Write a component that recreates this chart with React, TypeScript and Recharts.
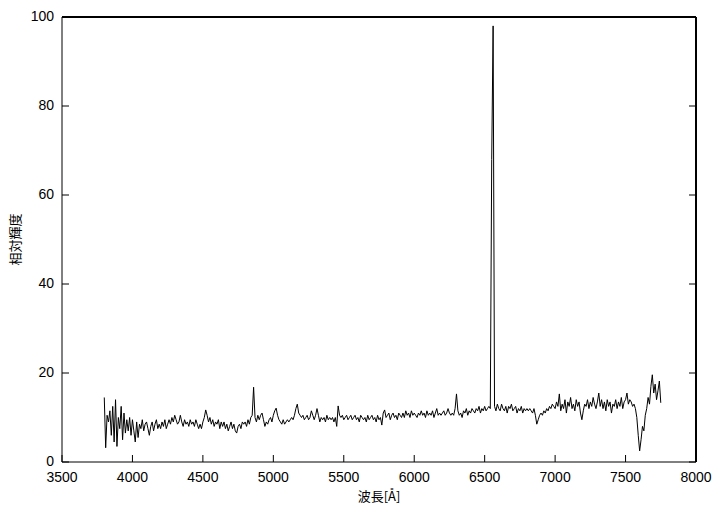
import React from 'react';
import { LineChart, Line, XAxis, YAxis, Label } from 'recharts';

const X_TICKS = [3500, 4000, 4500, 5000, 5500, 6000, 6500, 7000, 7500, 8000];
const Y_TICKS = [0, 20, 40, 60, 80, 100];
const X_TITLE = '波長[Å]';
const Y_TITLE = '相対輝度';

const WL_START = 3800;
const WL_STEP = 10;

const FLUX_3800 = [14.5, 3.2, 10.5, 9.0, 11.5, 6.0, 12.5, 4.5, 14.0, 3.5, 10.0, 7.5, 12.5, 5.0, 11.0, 6.5, 9.5, 7.0, 10.0, 6.0];
const FLUX_4000 = [9.5, 7.0, 4.5, 9.0, 5.5, 8.5, 7.5, 9.5, 7.0, 8.5, 9.0, 7.5, 6.0, 8.0, 9.0, 7.0, 8.5, 9.5, 7.5, 8.5];
const FLUX_4200 = [7.5, 9.0, 8.0, 9.5, 7.5, 8.5, 9.5, 8.5, 10.0, 9.0, 10.5, 9.5, 8.5, 9.0, 10.5, 9.0, 8.0, 9.5, 8.5, 9.0];
const FLUX_4400 = [8.0, 9.5, 8.5, 9.0, 8.0, 9.5, 8.5, 7.5, 8.5, 7.5, 9.0, 10.0, 11.7, 10.5, 9.0, 10.0, 8.5, 9.5, 8.0, 9.0];
const FLUX_4600 = [8.5, 9.5, 7.5, 9.0, 8.0, 9.0, 7.5, 8.5, 7.0, 8.0, 9.0, 7.5, 8.5, 7.0, 6.5, 8.0, 8.5, 7.5, 9.0, 8.5];
const FLUX_4800 = [9.0, 8.0, 9.5, 8.5, 10.0, 10.5, 16.8, 10.0, 9.0, 10.5, 9.5, 10.5, 11.0, 9.5, 8.0, 9.0, 8.5, 9.5, 10.0, 9.0];
const FLUX_5000 = [10.5, 11.5, 12.1, 10.5, 9.5, 9.0, 8.5, 9.5, 8.5, 9.0, 9.5, 9.0, 9.5, 10.0, 9.5, 10.5, 12.0, 13.0, 11.0, 10.5];
const FLUX_5200 = [10.0, 10.5, 9.5, 10.0, 10.5, 9.5, 10.0, 11.5, 10.5, 9.5, 10.5, 12.0, 10.5, 9.0, 10.0, 9.5, 10.0, 9.0, 10.5, 9.5];
const FLUX_5400 = [10.0, 9.5, 10.0, 9.0, 10.0, 8.0, 12.6, 10.5, 10.0, 10.5, 9.5, 10.0, 10.5, 9.5, 10.0, 10.5, 9.5, 10.0, 10.5, 9.5];
const FLUX_5600 = [10.0, 9.0, 10.5, 10.0, 9.5, 10.0, 9.0, 10.5, 9.5, 10.0, 10.5, 9.5, 10.0, 9.0, 10.5, 9.5, 10.0, 8.3, 11.0, 11.7];
const FLUX_5800 = [10.0, 10.5, 11.0, 9.5, 10.5, 11.0, 10.0, 10.5, 9.5, 11.0, 10.5, 10.0, 11.0, 10.0, 11.5, 10.5, 11.0, 10.0, 11.5, 10.5];
const FLUX_6000 = [11.0, 10.5, 10.0, 11.0, 10.5, 11.5, 10.5, 11.0, 10.0, 11.5, 10.5, 11.0, 10.5, 11.5, 10.0, 11.0, 12.0, 10.5, 11.0, 10.5];
const FLUX_6200 = [11.0, 11.5, 10.5, 11.0, 12.0, 11.0, 10.5, 11.0, 10.5, 12.0, 15.3, 11.5, 10.5, 11.0, 10.0, 11.5, 11.0, 12.0, 10.5, 11.5];
const FLUX_6400 = [11.0, 12.0, 11.5, 11.0, 12.0, 11.5, 12.5, 11.0, 12.0, 11.5, 12.5, 11.5, 12.0, 12.5, 12.0, 68.0, 98.0, 12.5, 11.5, 13.0];
const FLUX_6600 = [12.0, 11.5, 13.0, 12.0, 11.5, 12.5, 11.0, 12.5, 12.0, 13.0, 11.5, 12.0, 12.5, 11.0, 12.0, 11.5, 12.5, 11.0, 12.0, 11.5];
const FLUX_6800 = [12.0, 11.5, 12.0, 11.5, 11.0, 12.0, 10.5, 8.5, 9.5, 10.5, 11.0, 10.5, 11.5, 11.0, 12.0, 11.5, 12.5, 12.0, 13.0, 12.5];
const FLUX_7000 = [12.0, 13.5, 12.5, 15.3, 11.5, 13.0, 12.0, 14.0, 11.0, 13.5, 12.5, 14.5, 12.0, 13.0, 11.5, 14.0, 12.5, 13.5, 11.0, 9.5];
const FLUX_7200 = [11.5, 13.0, 12.5, 14.0, 12.0, 13.5, 12.5, 14.5, 13.0, 12.0, 13.5, 15.5, 12.5, 14.0, 12.0, 13.5, 11.5, 14.0, 12.5, 13.5];
const FLUX_7400 = [11.0, 13.0, 12.5, 14.0, 12.0, 13.5, 12.5, 14.5, 12.0, 13.5, 14.0, 15.5, 13.0, 14.0, 13.5, 12.5, 13.0, 12.0, 10.0, 6.0];
const FLUX_7600 = [2.5, 5.0, 8.0, 7.0, 10.5, 12.0, 14.5, 13.0, 17.0, 19.6, 15.5, 17.5, 14.0, 16.0, 18.2, 13.3];

const FLUX = [
  ...FLUX_3800, ...FLUX_4000, ...FLUX_4200, ...FLUX_4400, ...FLUX_4600,
  ...FLUX_4800, ...FLUX_5000, ...FLUX_5200, ...FLUX_5400, ...FLUX_5600,
  ...FLUX_5800, ...FLUX_6000, ...FLUX_6200, ...FLUX_6400, ...FLUX_6600,
  ...FLUX_6800, ...FLUX_7000, ...FLUX_7200, ...FLUX_7400, ...FLUX_7600,
];

const data = FLUX.map((f, i) => ({ wl: WL_START + i * WL_STEP, flux: f }));

const FONT = '"Liberation Sans", Arial, Helvetica, sans-serif';
const CJK = '"Noto Sans CJK JP", "Noto Sans CJK SC", sans-serif';
const TICK_LEN = 7;

const BottomTick = (props: any) => {
  const { x, y, payload } = props;
  return (
    <g>
      <line x1={x} y1={y} x2={x} y2={y - TICK_LEN} stroke="#000" strokeWidth={1} />
      <text x={x} y={y + 20} textAnchor="middle" fontSize={14} fontFamily={FONT} fill="#000">
        {payload.value}
      </text>
    </g>
  );
};

const LeftTick = (props: any) => {
  const { x, y, payload } = props;
  return (
    <g>
      <line x1={x} y1={y} x2={x + TICK_LEN} y2={y} stroke="#000" strokeWidth={1} />
      <text x={x - 8} y={y + 4} textAnchor="end" fontSize={14} fontFamily={FONT} fill="#000">
        {payload.value}
      </text>
    </g>
  );
};

const TopTick = (props: any) => {
  const { x, y } = props;
  return <line x1={x} y1={y} x2={x} y2={y + TICK_LEN} stroke="#000" strokeWidth={1} />;
};

const RightTick = (props: any) => {
  const { x, y } = props;
  return <line x1={x} y1={y} x2={x - TICK_LEN} y2={y} stroke="#000" strokeWidth={1} />;
};

const XTitle = (props: any) => {
  const vb = props.viewBox || { x: 62, y: 462, width: 634, height: 1 };
  const cx = vb.x + vb.width / 2;
  const cy = vb.y + 39;
  return (
    <text x={cx} y={cy} textAnchor="middle" fontSize={13} fontFamily={CJK} fill="#000">
      {X_TITLE}
    </text>
  );
};

const YTitle = (props: any) => {
  const vb = props.viewBox || { x: 61, y: 17, width: 1, height: 445 };
  const cx = vb.x + vb.width - 48;
  const cy = vb.y + vb.height / 2;
  return (
    <text
      x={cx}
      y={cy}
      textAnchor="middle"
      dominantBaseline="central"
      fontSize={13}
      fontFamily={CJK}
      fill="#000"
      transform={`rotate(-90, ${cx}, ${cy})`}
    >
      {Y_TITLE}
    </text>
  );
};

export default function App() {
  return (
    <div style={{ position: 'absolute', left: 0, top: 0, background: '#fff' }}>
      <LineChart
        width={721}
        height={505}
        data={data}
        margin={{ top: 16, right: 24, bottom: 42, left: 61 }}
      >
        <XAxis
          xAxisId="b"
          dataKey="wl"
          type="number"
          domain={[3500, 8000]}
          ticks={X_TICKS}
          interval={0}
          height={1}
          tickSize={0}
          tickMargin={0}
          tickLine={false}
          axisLine={{ stroke: '#000', strokeWidth: 1 }}
          tick={BottomTick}
          label={<Label content={XTitle} />}
        />
        <XAxis
          xAxisId="t"
          orientation="top"
          type="number"
          domain={[3500, 8000]}
          allowDataOverflow
          ticks={X_TICKS}
          interval={0}
          height={1}
          tickSize={0}
          tickMargin={0}
          tickLine={false}
          axisLine={{ stroke: '#000', strokeWidth: 2 }}
          tick={TopTick}
        />
        <YAxis
          yAxisId="l"
          type="number"
          domain={[0, 100]}
          ticks={Y_TICKS}
          interval={0}
          width={1}
          tickSize={0}
          tickMargin={0}
          tickLine={false}
          axisLine={{ stroke: '#000', strokeWidth: 1 }}
          tick={LeftTick}
          label={<Label content={YTitle} />}
        />
        <YAxis
          yAxisId="r"
          orientation="right"
          type="number"
          domain={[0, 100]}
          allowDataOverflow
          ticks={Y_TICKS}
          interval={0}
          width={1}
          tickSize={0}
          tickMargin={0}
          tickLine={false}
          axisLine={{ stroke: '#000', strokeWidth: 2 }}
          tick={RightTick}
        />
        <Line
          xAxisId="b"
          yAxisId="l"
          dataKey="flux"
          type="linear"
          stroke="#000"
          strokeWidth={1}
          dot={false}
          isAnimationActive={false}
        />
      </LineChart>
    </div>
  );
}
